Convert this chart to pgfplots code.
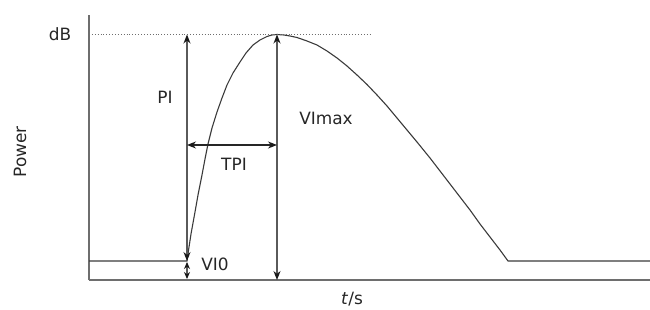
\documentclass[border=0pt]{standalone}
\usepackage{pgfplots}
\pgfplotsset{compat=1.18}
\usetikzlibrary{arrows.meta}
\usepackage{fontspec}
\setmainfont{DejaVu Sans}
\definecolor{axgray}{HTML}{6E6E6E}
\definecolor{curve}{HTML}{3A3A3A}
\definecolor{arrgray}{HTML}{5A5A5A}
\tikzset{lab/.style={font=\fontsize{17}{20}\selectfont, text=black!85, inner sep=0pt},
  tip/.style={Stealth[length=9bp,width=7bp,color=black!90]},
  stip/.style={Stealth[length=7bp,width=6bp,color=black!90]}}
\begin{document}
\begin{tikzpicture}
\begin{axis}[
  at={(0,0)}, anchor=south west,
  scale only axis, width=561bp, height=265bp,
  xmin=89, xmax=650, ymin=0, ymax=265,
  axis x line=bottom, axis y line=left,
  axis line style={-, draw=axgray, line width=1.4bp},
  xtick=\empty, ytick=\empty,
  clip=false,
]
% main curve
\addplot[color=curve, line width=1.1bp] coordinates {
(89,19) (187,19) (189,33) (191,46) (193,57) (195,68) (198,85) (202,105) (205,121) (208,136)
(212,152) (217,168) (222,182) (227,195) (233,207) (240,218) (246,227) (253,235) (260,240)
(267,243.5) (272,245) (277,245.5) (284,245) (290,244) (297,242.5) (307,239) (317,235)
(327,229) (337,222) (347,214) (357,205) (367,195.5) (377,185) (387,174) (397,162)
(407,150) (417,138) (430,122) (440,109) (450,96) (460,83) (470,70) (480,56) (490,43)
(500,30) (508,19) (650,19)
};
% dotted reference line
\addplot[color=axgray, dotted, line width=0.9bp] coordinates {(89,245.5) (370,245.5)};
% arrows
\draw[arrgray, line width=1.3bp, {Stealth[length=9bp,width=7bp,color=black!90]}-{Stealth[length=9bp,width=7bp,color=black!90]}]
  (axis cs:187,245.5) -- (axis cs:187,19);
\draw[arrgray, line width=1.3bp, {Stealth[length=9bp,width=7bp,color=black!90]}-{Stealth[length=9bp,width=7bp,color=black!90]}]
  (axis cs:277,245.5) -- (axis cs:277,0);
\draw[black!85, line width=1.2bp, {Stealth[length=9bp,width=7bp,color=black!90]}-{Stealth[length=9bp,width=7bp,color=black!90]}]
  (axis cs:187,135) -- (axis cs:277,135);
\draw[arrgray, line width=1.3bp, {Stealth[length=7bp,width=6bp,color=black!90]}-{Stealth[length=7bp,width=6bp,color=black!90]}]
  (axis cs:187,18) -- (axis cs:187,1);
% labels
\node[lab] at (axis cs:60,246) {dB};
\node[lab, rotate=90] at (axis cs:20,128) {Power};
\node[lab] at (axis cs:165,183) {PI};
\node[lab] at (axis cs:234,116) {TPI};
\node[lab] at (axis cs:326,162) {VImax};
\node[lab] at (axis cs:215,16) {VI0};
\node[lab] at (axis cs:352,-19) {\textit{t}/s};
\end{axis}
\pgfresetboundingbox
\path (-89bp,-30bp) rectangle (561bp,280bp);
\end{tikzpicture}
\end{document}
